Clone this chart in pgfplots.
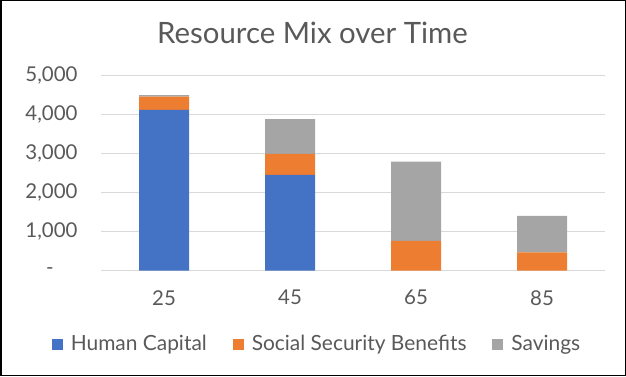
\documentclass[border=0pt]{standalone}
\usepackage{pgfplots}
\pgfplotsset{compat=1.18}
\usepackage{fontspec}
\setmainfont{Lato}
\definecolor{hc}{HTML}{4472C4}
\definecolor{ss}{HTML}{ED7D31}
\definecolor{sv}{HTML}{A5A5A5}
\definecolor{txt}{HTML}{595959}
\definecolor{grd}{HTML}{D9D9D9}
\begin{document}
\begin{tikzpicture}[x=1bp,y=1bp]
\path[use as bounding box] (0,0) rectangle (626,376);
\draw[black, line width=1.5bp] (0.75,0.75) rectangle (625.25,375.25);
\node[text=txt, font=\fontsize{29.5}{34}\selectfont, anchor=base] at (312.5,333) {Resource Mix over Time};
\begin{axis}[
  at={(101bp,105.3bp)}, anchor=south west,
  scale only axis, width=504bp, height=195.7bp,
  ybar stacked, bar width=50bp,
  xmin=-0.5, xmax=3.5, ymin=0, ymax=5000,
  xtick={0,1,2,3}, xticklabels={25,45,65,85},
  ytick={0,1000,2000,3000,4000,5000},
  yticklabels={{-\hphantom{00}},{1,000},{2,000},{3,000},{4,000},{5,000}},
  ymajorgrids, grid style={grd, line width=1bp},
  axis line style={draw=none}, tick style={draw=none},
  ticklabel style={text=txt, font=\fontsize{20.5}{24}\selectfont},
  yticklabel style={anchor=east, xshift=-20bp},
  xticklabel style={yshift=-16bp},
  legend columns=3,
  legend style={at={(0.4286,-0.3746)}, anchor=center, draw=none, fill=none,
    font=\fontsize{21}{25}\selectfont, text=txt,
    /tikz/every odd column/.append style={column sep=6bp},
    /tikz/every even column/.append style={column sep=24bp}},
  legend image code/.code={\fill[#1] (0bp,-5.5bp) rectangle (11bp,5.5bp);},
]
\addplot[fill=hc, draw=none] coordinates {(0,4110) (1,2450) (2,0) (3,0)};
\addplot[fill=ss, draw=none] coordinates {(0,340) (1,535) (2,760) (3,470)};
\addplot[fill=sv, draw=none] coordinates {(0,35) (1,885) (2,2030) (3,930)};
\legend{Human Capital, Social Security Benefits, Savings}
\end{axis}
\end{tikzpicture}
\end{document}
